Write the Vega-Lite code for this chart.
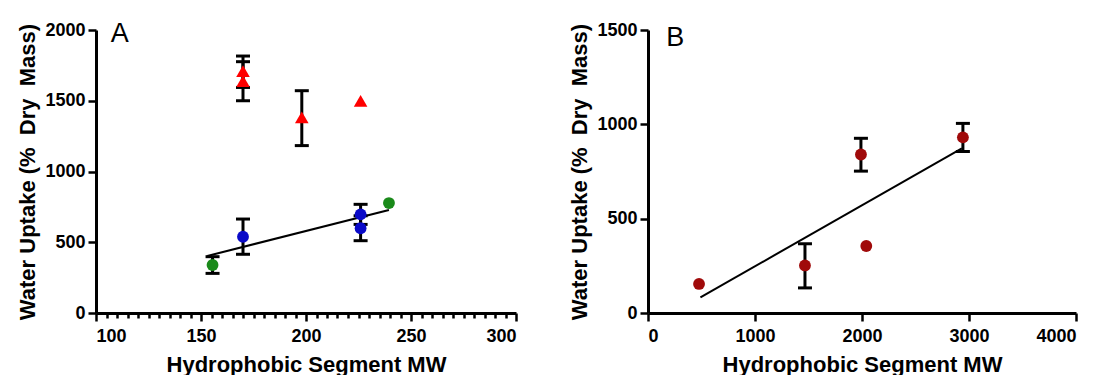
{
  "$schema": "https://vega.github.io/schema/vega-lite/v6.json",
  "background": "white",
  "padding": {"left": 16, "top": 20, "right": 0, "bottom": 0},
  "config": {
    "font": "Liberation Sans",
    "view": {"stroke": null},
    "axis": {
      "grid": false,
      "domainColor": "black",
      "domainWidth": 3,
      "tickColor": "black",
      "tickWidth": 2.5,
      "tickSize": 8,
      "labelFont": "Liberation Sans",
      "labelFontSize": 18,
      "labelFontWeight": "bold",
      "labelColor": "black",
      "titleFont": "Liberation Sans",
      "titleFontSize": 22,
      "titleFontWeight": "bold",
      "titleColor": "black",
      "labelPadding": 3,
      "titlePadding": 5,
      "format": "d"
    },
    "axisX": {"labelPadding": 6, "titlePadding": 9},
    "concat": {"spacing": 50}
  },
  "datasets": {
    "a": [
      {"group": "red", "mw": 170, "uptake": 1705, "lo": 1594, "hi": 1816},
      {"group": "red", "mw": 170, "uptake": 1635, "lo": 1500, "hi": 1776},
      {"group": "red", "mw": 198, "uptake": 1378, "lo": 1183, "hi": 1571},
      {"group": "red", "mw": 226, "uptake": 1495, "lo": null, "hi": null},
      {"group": "blue", "mw": 170, "uptake": 539, "lo": 415, "hi": 664},
      {"group": "blue", "mw": 226, "uptake": 697, "lo": 626, "hi": 768},
      {"group": "blue", "mw": 226, "uptake": 599, "lo": 511, "hi": 687},
      {"group": "green", "mw": 155.5, "uptake": 339, "lo": 280, "hi": 398},
      {"group": "green", "mw": 239.5, "uptake": 777, "lo": null, "hi": null}
    ],
    "aFit": [
      {"mw": 153, "uptake": 403},
      {"mw": 239.5, "uptake": 728}
    ],
    "aLabel": [{"mw": 107, "uptake": 1915, "label": "A"}],
    "b": [
      {"mw": 477, "uptake": 154, "lo": null, "hi": null},
      {"mw": 1467, "uptake": 252, "lo": 133, "hi": 367},
      {"mw": 1990, "uptake": 840, "lo": 752, "hi": 926},
      {"mw": 2040, "uptake": 355, "lo": null, "hi": null},
      {"mw": 2943, "uptake": 931, "lo": 856, "hi": 1005}
    ],
    "bFit": [
      {"mw": 490, "uptake": 83},
      {"mw": 2933, "uptake": 872}
    ],
    "bLabel": [{"mw": 170, "uptake": 1415, "label": "B"}]
  },
  "hconcat": [
    {
      "width": 420,
      "height": 283,
      "encoding": {
        "x": {
          "field": "mw", "type": "quantitative",
          "scale": {"domain": [100, 300], "nice": false, "zero": false},
          "axis": {
            "title": "Hydrophobic Segment MW",
            "values": [100,105,110,115,120,125,130,135,140,145,150,155,160,165,170,175,180,185,190,195,200,205,210,215,220,225,230,235,240,245,250,255,260,265,270,275,280,285,290,295,300],
            "labelExpr": "datum.value % 50 === 0 ? datum.label : ''",
            "labelOverlap": false,
            "tickSize": {"condition": {"test": "datum.value % 50 === 0", "value": 8}, "value": 5}
          }
        },
        "y": {
          "field": "uptake", "type": "quantitative",
          "scale": {"domain": [0, 2000], "nice": false},
          "axis": {"title": "Water Uptake (%\u00a0 Dry\u00a0 Mass)", "values": [0, 500, 1000, 1500, 2000]}
        }
      },
      "layer": [
        {
          "data": {"name": "aFit"},
          "mark": {"type": "line", "color": "black", "strokeWidth": 2}
        },
        {
          "data": {"name": "a"},
          "transform": [{"filter": "datum.lo != null"}],
          "mark": {"type": "rule", "color": "black", "strokeWidth": 3},
          "encoding": {
            "y": {"field": "lo", "type": "quantitative", "title": "Water Uptake (%\u00a0 Dry\u00a0 Mass)"},
            "y2": {"field": "hi"}
          }
        },
        {
          "data": {"name": "a"},
          "transform": [{"filter": "datum.lo != null"}],
          "mark": {"type": "tick", "orient": "horizontal", "color": "black", "size": 14, "thickness": 3, "opacity": 1},
          "encoding": {
            "y": {"field": "lo", "type": "quantitative", "title": "Water Uptake (%\u00a0 Dry\u00a0 Mass)"}
          }
        },
        {
          "data": {"name": "a"},
          "transform": [{"filter": "datum.hi != null"}],
          "mark": {"type": "tick", "orient": "horizontal", "color": "black", "size": 14, "thickness": 3, "opacity": 1},
          "encoding": {
            "y": {"field": "hi", "type": "quantitative", "title": "Water Uptake (%\u00a0 Dry\u00a0 Mass)"}
          }
        },
        {
          "data": {"name": "a"},
          "mark": {"type": "point", "filled": true, "opacity": 1, "size": 140},
          "encoding": {
            "color": {
              "field": "group", "type": "nominal", "legend": null,
              "scale": {"domain": ["red", "blue", "green"], "range": ["#ff0000", "#0a0ac8", "#1a8a1a"]}
            },
            "shape": {
              "field": "group", "type": "nominal", "legend": null,
              "scale": {"domain": ["red", "blue", "green"], "range": ["M-1.15,0.9L1.15,0.9L0,-1.1Z", "circle", "circle"]}
            }
          }
        },
        {
          "data": {"name": "aLabel"},
          "mark": {"type": "text", "align": "left", "baseline": "alphabetic", "fontSize": 27, "font": "Liberation Sans", "color": "black"},
          "encoding": {
            "text": {"field": "label"}
          }
        }
      ]
    },
    {
      "width": 428,
      "height": 283,
      "encoding": {
        "x": {
          "field": "mw", "type": "quantitative",
          "scale": {"domain": [0, 4000], "nice": false},
          "axis": {"title": "Hydrophobic Segment MW", "values": [0, 1000, 2000, 3000, 4000]}
        },
        "y": {
          "field": "uptake", "type": "quantitative",
          "scale": {"domain": [0, 1500], "nice": false},
          "axis": {"title": "Water Uptake (%\u00a0 Dry\u00a0 Mass)", "values": [0, 500, 1000, 1500]}
        }
      },
      "layer": [
        {
          "data": {"name": "bFit"},
          "mark": {"type": "line", "color": "black", "strokeWidth": 2}
        },
        {
          "data": {"name": "b"},
          "transform": [{"filter": "datum.lo != null"}],
          "mark": {"type": "rule", "color": "black", "strokeWidth": 3},
          "encoding": {
            "y": {"field": "lo", "type": "quantitative", "title": "Water Uptake (%\u00a0 Dry\u00a0 Mass)"},
            "y2": {"field": "hi"}
          }
        },
        {
          "data": {"name": "b"},
          "transform": [{"filter": "datum.lo != null"}],
          "mark": {"type": "tick", "orient": "horizontal", "color": "black", "size": 14, "thickness": 3, "opacity": 1},
          "encoding": {
            "y": {"field": "lo", "type": "quantitative", "title": "Water Uptake (%\u00a0 Dry\u00a0 Mass)"}
          }
        },
        {
          "data": {"name": "b"},
          "transform": [{"filter": "datum.hi != null"}],
          "mark": {"type": "tick", "orient": "horizontal", "color": "black", "size": 14, "thickness": 3, "opacity": 1},
          "encoding": {
            "y": {"field": "hi", "type": "quantitative", "title": "Water Uptake (%\u00a0 Dry\u00a0 Mass)"}
          }
        },
        {
          "data": {"name": "b"},
          "mark": {"type": "point", "shape": "circle", "filled": true, "opacity": 1, "size": 140, "color": "#a00a0a"}
        },
        {
          "data": {"name": "bLabel"},
          "mark": {"type": "text", "align": "left", "baseline": "alphabetic", "fontSize": 27, "font": "Liberation Sans", "color": "black"},
          "encoding": {
            "text": {"field": "label"}
          }
        }
      ]
    }
  ]
}
